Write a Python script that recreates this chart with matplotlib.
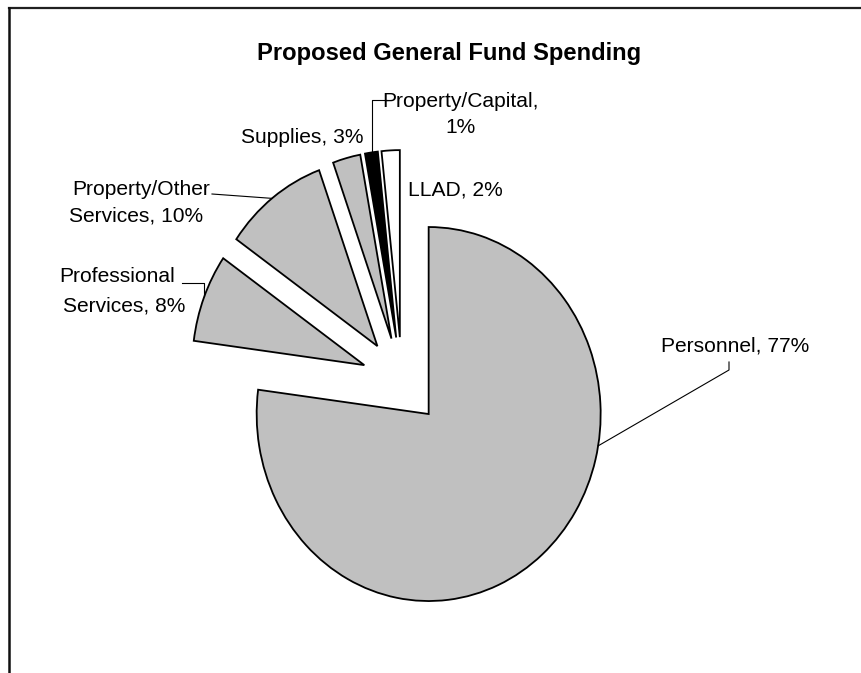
import matplotlib
matplotlib.use("Agg")
import matplotlib.pyplot as plt
import numpy as np

# ---- data ----
categories = ["Personnel", "Professional Services", "Property/Other Services",
              "Supplies", "Property/Capital", "LLAD"]
values = [77.0, 7.6, 9.8, 2.6, 1.2, 1.7]
colors = ["#C0C0C0", "#C0C0C0", "#C0C0C0", "#C0C0C0", "#000000", "#FFFFFF"]
title = "Proposed General Fund Spending"

plt.rcParams['font.family'] = ['Liberation Sans', 'DejaVu Sans']

W, H = 861, 673
fig = plt.figure(figsize=(W / 100, H / 100), dpi=100)
fig.patch.set_facecolor("white")

# pie geometry in pixel space (image is slightly stretched vertically)
cx, cy, rx, ry = 402, 381, 172, 187
ax = fig.add_axes([0, 0, 1, 1])
ax.axis("off")


def px(x, y):
    return (x - cx) / rx, (cy - y) / ry


wedges, _ = ax.pie(values, colors=colors, explode=[0.235] * len(values),
                   startangle=90, counterclock=False, radius=1,
                   wedgeprops=dict(edgecolor="black", linewidth=1.3))
ax.set_aspect("auto")
ax.set_xlim(-cx / rx, (W - cx) / rx)
ax.set_ylim((cy - H) / ry, cy / ry)

total = sum(values)
pcts = [int(round(v / total * 100)) for v in values]


def anchor(i, deg):
    w = wedges[i]
    c = w.center
    return c[0] + w.r * np.cos(np.radians(deg)), c[1] + w.r * np.sin(np.radians(deg))


FS = 15.1


def put(lines, xs, baselines, ha="center"):
    for s, x, b in zip(lines, xs, baselines):
        fig.text(x / W, 1 - b / H, s, ha=ha, va="baseline", fontsize=FS, color="black")


# title
fig.text(449 / W, 1 - 60 / H, title, ha="center", va="baseline",
         fontsize=17.1, fontweight="bold")

# labels
put([f"{categories[0]}, {pcts[0]}%"], [735], [352])
put(["Professional", f"Services, {pcts[1]}%"], [117, 124], [282, 312])
put(["Property/Other", f"Services, {pcts[2]}%"], [141, 136], [195, 221.5])
put([f"{categories[3]}, {pcts[3]}%"], [302.5], [143.3])
put([f"{categories[4]},", f"{pcts[4]}%"], [460, 460], [106.7, 133])
put([f"{categories[5]}, {pcts[5]}%"], [408], [195], ha="left")

lk = dict(color="black", linewidth=0.8)
# Personnel leader
a = anchor(0, -9.8)
ax.plot([px(729, 362)[0], px(729, 370)[0], a[0]],
        [px(729, 362)[1], px(729, 370)[1], a[1]], **lk)
# Professional leader
a = anchor(1, 158.4)
ax.plot([px(182, 283)[0], a[0], a[0]], [px(182, 283)[1], px(182, 283)[1], a[1]], **lk)
# Property/Other leader
a = anchor(2, 127.8)
ax.plot([px(212, 194)[0], a[0]], [px(212, 194)[1], a[1]], **lk)
# Property/Capital leader
a = anchor(4, 98.0)
ax.plot([px(387, 100)[0], a[0], a[0]], [px(387, 100)[1], px(387, 100)[1], a[1]], **lk)

# frame (top and left edges of chart border)
ax.plot([px(9, 8)[0], px(W, 8)[0]], [px(9, 8)[1], px(W, 8)[1]],
        color="#202020", linewidth=1.6, solid_capstyle="projecting", clip_on=False)
ax.plot([px(9, 8)[0], px(9, H)[0]], [px(9, 8)[1], px(9, H)[1]],
        color="#101010", linewidth=1.8, solid_capstyle="projecting", clip_on=False)

fig.savefig("out.png", dpi=100, facecolor="white")
